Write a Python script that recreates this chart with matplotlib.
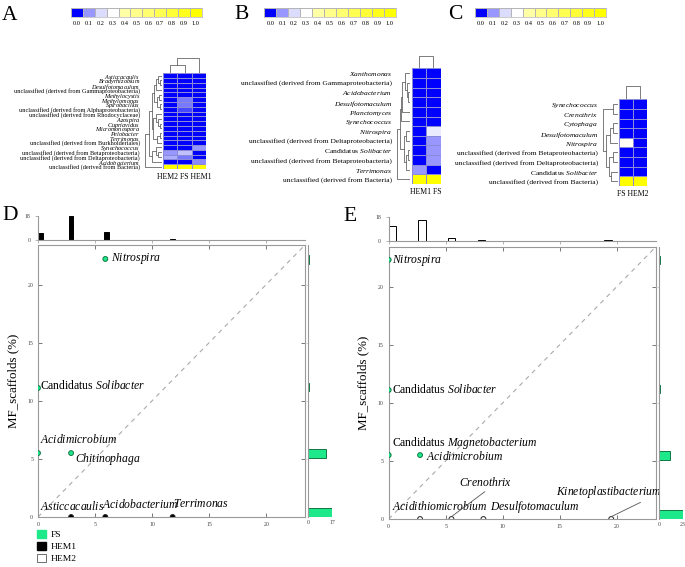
import numpy as np
import matplotlib
matplotlib.use('Agg')
import matplotlib.pyplot as plt
from matplotlib.colors import LinearSegmentedColormap
from matplotlib.patches import Patch

plt.rcParams['font.family'] = ['Liberation Serif', 'DejaVu Serif']
plt.rcParams['mathtext.fontset'] = 'custom'
plt.rcParams['mathtext.rm'] = 'Liberation Serif'
plt.rcParams['mathtext.it'] = 'Liberation Serif:italic'

W, H = 685, 567

# ---------------- heatmap data ----------------
scale_vals = [0.0, 0.1, 0.2, 0.3, 0.4, 0.5, 0.6, 0.7, 0.8, 0.9, 1.0]

a_rows = ['Asticcacaulis', 'Bradyrhizobium', 'Desulfotomaculum',
          'unclassified (derived from Gammaproteobacteria)', 'Methylocystis',
          'Methylomonas', 'Spirobacillus',
          'unclassified (derived from Alphaproteobacteria)',
          'unclassified (derived from Rhodocyclaceae)', 'Azospira', 'Cupriavidus',
          'Micromonospora', 'Pelobacter', 'Terrimonas',
          'unclassified (derived from Burkholderiales)', 'Synechococcus',
          'unclassified (derived from Betaproteobacteria)',
          'unclassified (derived from Deltaproteobacteria)', 'Acidobacterium',
          'unclassified (derived from Bacteria)']
a_cols = ['HEM2', 'FS', 'HEM1']
a_vals = [[0, 0, 0], [0, 0, 0], [0, 0, 0], [0, 0, 0], [0, 0, 0],
          [0, 0.08, 0], [0, 0.08, 0], [0, 0.05, 0], [0, 0, 0], [0, 0, 0],
          [0, 0, 0], [0, 0, 0], [0, 0, 0], [0, 0, 0], [0, 0, 0],
          [0, 0, 0.1], [0.1, 0.16, 0], [0.13, 0.08, 0], [0, 0, 0.09], [1, 1, 1]]
a_row_tree = (0.9, (0.7, (0.5, (0.4, (0.3, (0.2, 0, (0.1, 1, 2)), 3),
                                  (0.25, (0.15, 4, 5), (0.1, 6, 7))),
                            (0.45, (0.3, 8, (0.2, 9, (0.1, 10, 11))),
                             (0.25, (0.1, 12, 13), 14))),
                     (0.5, (0.3, 15, (0.2, 16, 17)), 18)), 19)
a_col_tree = (1.0, (0.55, 0, 1), 2)

b_rows = ['Xanthomonas', 'unclassified (derived from Gammaproteobacteria)',
          'Acidobacterium', 'Desulfotomaculum', 'Planctomyces', 'Synechococcus',
          'Nitrospira', 'unclassified (derived from Deltaproteobacteria)',
          'Candidatus Solibacter', 'unclassified (derived from Betaproteobacteria)',
          'Terrimonas', 'unclassified (derived from Bacteria)']
b_cols = ['HEM1', 'FS']
b_vals = [[0, 0], [0, 0], [0, 0], [0, 0], [0, 0], [0, 0],
          [0, 0.24], [0, 0.1], [0, 0.1], [0, 0.1], [0.1, 0], [1, 1]]
b_row_tree = (1.0, (0.8, (0.7, (0.6, (0.4, 0, (0.25, 1, (0.15, 2, 3))), 4), 5),
                    (0.5, (0.3, 6, 7), (0.35, (0.2, 8, 9), 10))), 11)
b_col_tree = (1.0, 0, 1)

c_rows = ['Synechococcus', 'Crenothrix', 'Cytophaga', 'Desulfotomaculum',
          'Nitrospira', 'unclassified (derived from Betaproteobacteria)',
          'unclassified (derived from Deltaproteobacteria)',
          'Candidatus Solibacter', 'unclassified (derived from Bacteria)']
c_cols = ['FS', 'HEM2']
c_vals = [[0, 0], [0, 0], [0, 0], [0, 0], [0.31, 0], [0, 0], [0, 0], [0, 0], [1, 1]]
c_row_tree = (1.0, (0.3, 0, 1), (0.8, (0.5, (0.3, 2, 3), 4),
                                 (0.6, (0.35, 5, 6), (0.45, 7, 8))))
c_col_tree = (1.0, 0, 1)

# ---------------- scatter data ----------------
d_names = ['Nitrospira', 'Candidatus Solibacter', 'Acidimicrobium', 'Chitinophaga',
           'Asticcacaulis', 'Acidobacterium', 'Terrimonas']
d_x = [5.9, 0, 0, 2.9, 2.9, 5.9, 11.8]
d_y = [22.2, 11.1, 5.5, 5.5, 0, 0, 0]
d_top_left = [0, 2.7, 5.8, 11.6]
d_top_height = [5.5, 18, 6, 0.5]
d_right_bottom = [0, 5.1, 10.8, 21.8]
d_right_width = [17, 13, 0.4, 0.9]

e_names = ['Nitrospira', 'Candidatus Solibacter', 'Candidatus Magnetobacterium',
           'Acidimicrobium', 'Acidithiomicrobium', 'Crenothrix', 'Desulfotomaculum',
           'Kinetoplastibacterium']
e_x = [0, 0, 0, 2.75, 2.75, 5.5, 8.3, 19.5]
e_y = [22.3, 11.1, 5.5, 5.5, 0, 0, 0, 0]
e_top_left = [0, 2.6, 5.2, 7.8, 18.9]
e_top_height = [11, 16, 2, 0.4, 0.4]
e_right_bottom = [0, 5.1, 10.8, 21.9]
e_right_width = [23, 11, 0.6, 0.6]

GREEN = '#1de98b'
cmap = LinearSegmentedColormap.from_list(
    'bwy', [(0, '#0000ff'), (0.1, '#9a9aff'), (0.2, '#dcdcff'), (0.3, '#ffffff'),
            (0.4, '#ffffa6'), (1.0, '#ffff00')])


def sp(name):
    if name.startswith('unclassified'):
        return name
    if name.startswith('Candidatus '):
        return 'Candidatus $\\mathit{' + name.split(' ', 1)[1] + '}$'
    return '$\\mathit{' + name + '}$'


def px(l, t, r, b):
    return [l / W, 1 - b / H, (r - l) / W, (b - t) / H]


def draw_tree(ax, tree, side):
    def rec(node):
        if isinstance(node, int):
            return node + 0.5, 0.0
        h, a, b = node
        pa, ha = rec(a)
        pb, hb = rec(b)
        if side == 'left':
            ax.plot([ha, h, h, hb], [pa, pa, pb, pb], color='#666666', lw=0.6)
        else:
            ax.plot([pa, pa, pb, pb], [ha, h, h, hb], color='#666666', lw=0.6)
        return (pa + pb) / 2, h
    rec(tree)
    ax.axis('off')


def heatmap(rows, cols, vals, row_tree, col_tree, box, dw, th, fs, pad):
    l, t, r, b = box
    ax = fig.add_axes(px(l, t, r, b))
    ax.pcolormesh(np.array(vals), cmap=cmap, vmin=0, vmax=1,
                  edgecolors='#8a8ad8', linewidth=0.5)
    ax.set_xlim(0, len(cols))
    ax.set_ylim(len(rows), 0)
    ax.set_yticks(np.arange(len(rows)) + 0.5, [sp(n) for n in rows], fontsize=fs)
    ax.set_xticks([])
    ax.set_xlabel(' '.join(cols), fontsize=5.6, labelpad=3)
    ax.tick_params(axis='y', length=0, pad=pad)
    for s in ax.spines.values():
        s.set_visible(False)
    dax = fig.add_axes(px(l - dw, t, l - 1.5, b))
    draw_tree(dax, row_tree, 'left')
    dax.set_xlim(1.02, 0)
    dax.set_ylim(len(rows), 0)
    tax = fig.add_axes(px(l, t - th, r, t))
    draw_tree(tax, col_tree, 'top')
    tax.set_xlim(0, len(cols))
    tax.set_ylim(0, 1.02)


def scale_bar(l, r):
    cb = fig.add_axes(px(l, 8.3, r, 17.3))
    cb.pcolormesh(np.array([scale_vals]), cmap=cmap, vmin=0, vmax=1,
                  edgecolors='#b5b5b5', linewidth=0.5)
    cb.set_xticks(np.arange(len(scale_vals)) + 0.5,
                  ['%.1f' % v for v in scale_vals], fontsize=4.6)
    cb.set_yticks([])
    cb.tick_params(length=0, pad=2.5)
    for s in cb.spines.values():
        s.set_color('#b5b5b5')
        s.set_linewidth(0.5)


def scatter_panel(main, top, right, names, xs, ys, low_color, labels, arrows,
                  top_left, top_h, top_fc, top_w, right_b, right_w, right_max):
    ax = fig.add_axes(px(*main))
    lim = 23.4
    ax.plot([0, lim], [0, lim], ls=(0, (4, 4)), color='#aaaaaa', lw=0.8)
    fc = [GREEN if y > 0 else low_color for y in ys]
    ec = ['#117744' if y > 0 else '#222222' for y in ys]
    ax.scatter(xs, ys, s=12, c=fc, edgecolors=ec, linewidths=0.7, zorder=3)
    for i, n in enumerate(names):
        tx, ty = labels[i]
        if i in arrows:
            ax.annotate(sp(n), xy=(xs[i], ys[i] + 0.2), xytext=(tx, ty), fontsize=8.4,
                        arrowprops=dict(arrowstyle='-', color='#555555', lw=0.6,
                                        shrinkA=0, shrinkB=0,
                                        relpos=arrows[i]))
        else:
            ax.text(tx, ty, sp(n), fontsize=8.4)
    ax.set_xlim(0, lim)
    ax.set_ylim(0, lim)
    ax.set_xticks([0, 5, 10, 15, 20])
    ax.set_yticks([0, 5, 10, 15, 20])
    ax.tick_params(labelsize=4.2, colors='#444444', direction='in', length=3,
                   top=True, right=True, width=0.5)
    for s in ax.spines.values():
        s.set_color('#999999')
        s.set_linewidth(0.8)
    ax.set_ylabel('MF_scaffolds (%)', fontsize=9.3, labelpad=6)

    hx = fig.add_axes(px(*top))
    hx.bar(top_left, top_h, width=top_w, align='edge', color=top_fc,
           edgecolor='black', linewidth=0.7)
    hx.set_xlim(0, lim)
    hx.set_ylim(0, 18)
    hx.set_yticks([0, 18])
    hx.set_xticks([0, 5, 10, 15, 20])
    hx.tick_params(axis='x', labelbottom=False, length=2, width=0.5, color='#999999')
    hx.tick_params(axis='y', labelsize=4.2, length=2, width=0.5, color='#999999',
                   labelcolor='#444444')
    for k in ['top', 'right']:
        hx.spines[k].set_visible(False)
    for k in ['left', 'bottom']:
        hx.spines[k].set_color('#999999')
        hx.spines[k].set_linewidth(0.8)

    hy = fig.add_axes(px(*right))
    hy.barh(right_b, right_w, height=0.75, align='edge', color=GREEN,
            edgecolor='#117744', linewidth=0.7)
    hy.set_ylim(0, lim)
    hy.set_xlim(0, right_max)
    hy.set_xticks([0, right_max])
    hy.set_yticks([5, 10, 15, 20])
    hy.tick_params(axis='y', labelleft=False, length=2, width=0.5, color='#cccccc')
    hy.tick_params(axis='x', labelsize=4.2, length=0, labelcolor='#444444', pad=2)
    for k in ['top', 'right', 'bottom']:
        hy.spines[k].set_visible(False)
    hy.spines['left'].set_color('#999999')
    hy.spines['left'].set_linewidth(0.8)


fig = plt.figure(figsize=(W / 100, H / 100), dpi=100)

scale_bar(71, 201.7)
scale_bar(264.3, 395.7)
scale_bar(475, 606)

heatmap(a_rows, a_cols, a_vals, a_row_tree, a_col_tree, (163, 73.3, 206, 169),
        20, 16, 4.5, 16.6)
heatmap(b_rows, b_cols, b_vals, b_row_tree, b_col_tree, (411.7, 68.3, 440.7, 184),
        15, 13, 5.4, 14.2)
heatmap(c_rows, c_cols, c_vals, c_row_tree, c_col_tree, (619, 99.3, 647.3, 186),
        16, 14, 5.4, 15.1)

d_labels = [(6.4, 22.0), (0.15, 11.0), (0.2, 6.4), (3.2, 4.7), (0.2, 0.6),
            (5.6, 0.8), (11.8, 0.9)]
scatter_panel((38, 245, 305, 517), (38, 216, 305, 240), (308, 245, 332, 517),
              d_names, d_x, d_y, 'black', d_labels, {},
              d_top_left, d_top_height, 'black', 0.4,
              d_right_bottom, d_right_width, 17)

e_labels = [(0.3, 22.0), (0.3, 10.8), (0.3, 6.3), (3.3, 5.1), (0.3, 0.8),
            (6.2, 2.85), (8.9, 0.8), (14.7, 2.1)]
e_arrows = {5: (0.55, 0), 7: (0.85, 0)}
scatter_panel((388.7, 247, 655.7, 519), (388.7, 217, 655.7, 241), (659, 247, 683, 519),
              e_names, e_x, e_y, 'white', e_labels, e_arrows,
              e_top_left, e_top_height, 'white', 0.65,
              e_right_bottom, e_right_width, 23)

for letter, x, y in [('A', 2, 20), ('B', 234, 19), ('C', 448, 19),
                     ('D', 2, 220), ('E', 343, 221)]:
    fig.text(x / W, 1 - y / H, letter, fontsize=15.5, va='baseline')

fig.legend(handles=[Patch(fc=GREEN, ec=GREEN), Patch(fc='black', ec='black'),
                    Patch(fc='white', ec='#555555', lw=0.6)],
           labels=['FS', 'HEM1', 'HEM2'], loc='upper left',
           bbox_to_anchor=(37 / W, 1 - 530 / H), frameon=False, fontsize=6.8,
           handlelength=0.9, handleheight=0.9, handletextpad=0.6,
           labelspacing=0.3, borderaxespad=0, borderpad=0)

fig.savefig('out.png', dpi=100)
